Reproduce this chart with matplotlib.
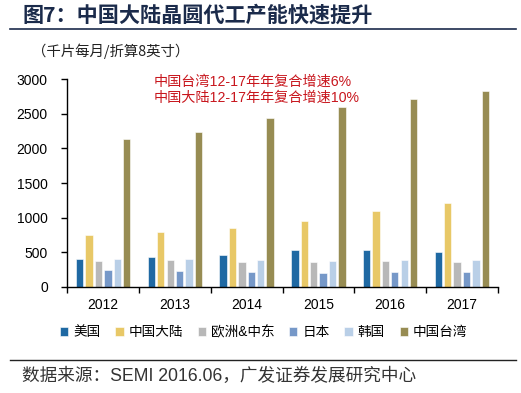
import numpy as np
import matplotlib.pyplot as plt

plt.rcParams['font.family'] = ['Liberation Sans', 'Noto Sans CJK SC', 'DejaVu Sans']

years = ['2012', '2013', '2014', '2015', '2016', '2017']
regions = ['美国', '中国大陆', '欧洲&中东', '日本', '韩国', '中国台湾']
colors = ['#1f69a3', '#e8c867', '#b8b8b8', '#7698c8', '#b9cfe7', '#978c53']

# capacity, k wafers / month (8-inch equivalent)
us = [395, 435, 455, 525, 525, 500]
mainland = [745, 795, 845, 945, 1095, 1215]
europe_me = [365, 380, 355, 355, 365, 355]
japan = [240, 225, 210, 195, 215, 215]
korea = [400, 400, 385, 375, 385, 385]
taiwan = [2135, 2235, 2435, 2605, 2715, 2825]
series = [us, mainland, europe_me, japan, korea, taiwan]

fig = plt.figure(figsize=(5.21, 3.93), dpi=100)
ax = fig.add_axes([0.1292, 0.2705, 0.8261, 0.5277])

x = np.arange(len(years))
step = 0.131
width = 0.102
for i, (vals, name, c) in enumerate(zip(series, regions, colors)):
    ax.bar(x + (i - 2.5) * step, vals, width, color=c, label=name,
           edgecolor='white', linewidth=0.4)

ax.set_xlim(-0.5, 5.5)
ax.set_ylim(0, 3000)
ax.set_yticks(np.arange(0, 3001, 500))
ax.set_xticks(x)
ax.set_xticklabels(years)
ax.set_xticks(np.arange(-0.5, 5.6, 1), minor=True)
ax.tick_params(axis='x', which='major', length=0, labelsize=10, pad=8)
ax.tick_params(axis='x', which='minor', length=4, width=1)
ax.tick_params(axis='y', length=4, width=1, labelsize=10, pad=10)
for s in ['top', 'right']:
    ax.spines[s].set_visible(False)
for s in ['left', 'bottom']:
    ax.spines[s].set_linewidth(1)

ax.text(0.2, 0.99, '中国台湾12-17年年复合增速6%', transform=ax.transAxes,
        color='#c8161d', fontsize=10.2, va='center')
ax.text(0.2, 0.91, '中国大陆12-17年年复合增速10%', transform=ax.transAxes,
        color='#c8161d', fontsize=10.2, va='center')

leg = fig.legend(loc='center', bbox_to_anchor=(0.506, 0.155), ncol=6, frameon=False,
                 fontsize=9.8, handlelength=0.6, handleheight=0.6, handletextpad=0.35,
                 columnspacing=1.1)

fig.text(0.044, 0.962, '图7：中国大陆晶圆代工产能快速提升', fontsize=15.2, fontweight='bold',
         color='#1b2b4b', va='center', family=['Noto Sans CJK SC'])
fig.add_artist(plt.Line2D([0.019, 0.99], [0.925, 0.925], color='#1b2b4b', linewidth=1.2))
fig.text(0.062, 0.87, '（千片每月/折算8英寸）', fontsize=10.4, color='#222222', va='center',
         family=['Noto Sans CJK SC'])
fig.add_artist(plt.Line2D([0.019, 0.99], [0.084, 0.084], color='#222222', linewidth=1.0))
fig.text(0.042, 0.043, '数据来源：SEMI 2016.06，广发证券发展研究中心', fontsize=12.7,
         color='#333333', va='center')

fig.savefig('out.png', dpi=100)
